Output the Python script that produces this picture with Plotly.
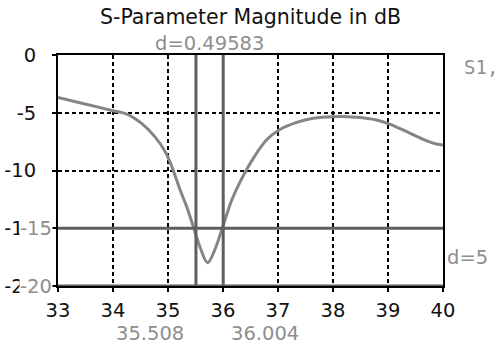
import plotly.graph_objects as go

freq = [33.0, 33.49, 34.0, 34.25, 34.52, 34.76, 34.95, 35.07, 35.22, 35.34, 35.46, 35.58,
        35.72, 35.85, 36.0, 36.16, 36.32, 36.55, 36.79, 37.02, 37.34, 37.64, 38.0, 38.43,
        38.79, 39.04, 39.34, 39.64, 39.88, 40.0]
s11_db = [-3.67, -4.24, -4.82, -5.11, -5.92, -7.07, -8.37, -9.67, -11.69, -13.13, -14.86, -16.6,
          -17.98, -16.88, -14.8, -12.55, -10.9, -8.95, -7.36, -6.49, -5.83, -5.48, -5.34, -5.4,
          -5.63, -6.0, -6.64, -7.3, -7.71, -7.79]

x_ticks = [33, 34, 35, 36, 37, 38, 39, 40]
x_ticktext = ["33", "34", "35", "36", "37", "38", "39", "40"]
y_ticks = [0, -5, -10, -15, -20]
y_ticktext = ["0", "-5", "-10", "-15", "-20"]

cursor_x = [35.508, 36.004]
cursor_labels = ["35.508", "36.004"]
level_y = [-15, -20]
level_labels = ["-15", "-20"]
delta_x_text = "d=0.49583"
delta_y_text = "d=5"
legend_text = "S1,"
title_text = "S-Parameter Magnitude in dB"

FONT = "DejaVu Sans"
GRAY_TXT = "#8e8e8e"
MARK = "#5f5f5f"

TOP, BOT = 55, 286


def py(p):
    return (BOT - p) / (BOT - TOP)


fig = go.Figure()
fig.add_trace(go.Scatter(x=freq, y=s11_db, mode="lines",
                         line=dict(color="#858585", width=3, shape="spline", smoothing=1.0),
                         showlegend=False, hoverinfo="skip"))

for cx in cursor_x:
    fig.add_shape(type="line", xref="x", yref="y", x0=cx, x1=cx, y0=-20, y1=0,
                  line=dict(color=MARK, width=3), layer="above")
for ly in level_y:
    fig.add_shape(type="line", xref="x", yref="y", x0=32.95, x1=40, y0=ly, y1=ly,
                  line=dict(color=MARK, width=3), layer="above")

ann = []
ann.append(dict(text=title_text, x=0.5, xref="paper", yref="paper", y=py(17), yanchor="middle",
                showarrow=False, font=dict(family=FONT, size=20.5, color="#111")))
ann.append(dict(text=delta_x_text, x=(cursor_x[0] + cursor_x[1]) / 2, xref="x",
                yref="paper", y=py(44), yanchor="middle", showarrow=False,
                font=dict(family=FONT, size=19.5, color=GRAY_TXT)))
ann.append(dict(text=cursor_labels[0], x=cursor_x[0], xref="x", xanchor="right", xshift=-10,
                yref="paper", y=py(333), yanchor="middle", showarrow=False,
                font=dict(family=FONT, size=19.5, color=GRAY_TXT)))
ann.append(dict(text=cursor_labels[1], x=cursor_x[1], xref="x", xanchor="left", xshift=6,
                yref="paper", y=py(333), yanchor="middle", showarrow=False,
                font=dict(family=FONT, size=19.5, color=GRAY_TXT)))
for ly, lt in zip(level_y, level_labels):
    ann.append(dict(text=lt, x=0, xref="paper", xanchor="right", xshift=-5,
                    y=ly, yref="y", yanchor="middle", showarrow=False, bgcolor="white",
                    borderpad=0,
                    font=dict(family=FONT, size=19.5, color=GRAY_TXT)))
ann.append(dict(text=delta_y_text, x=1, xref="paper", xanchor="left", xshift=2,
                y=(level_y[0] + level_y[1]) / 2, yref="y", yanchor="middle", showarrow=False,
                font=dict(family=FONT, size=19.5, color=GRAY_TXT)))
ann.append(dict(text=legend_text, x=1, xref="paper", xanchor="left", xshift=19,
                yref="paper", y=py(67), yanchor="middle", showarrow=False,
                font=dict(family="DejaVu Sans Mono", size=19, color=GRAY_TXT)))

grid = dict(showgrid=True, gridcolor="black", gridwidth=1.5, griddash="4px,3px",
            zeroline=False, showline=True, linecolor="black", linewidth=2, mirror=True,
            ticks="outside", ticklen=4, tickcolor="black", tickwidth=1.5, automargin=False)

fig.update_layout(
    width=500, height=354,
    margin=dict(l=58, r=57, t=TOP, b=354 - BOT),
    paper_bgcolor="white", plot_bgcolor="white",
    font=dict(family=FONT, size=19.5, color="#111"),
    xaxis=dict(range=[33, 40], tickvals=x_ticks, ticktext=x_ticktext,
               ticklabelstandoff=2, **grid),
    yaxis=dict(range=[-20, 0], tickvals=y_ticks, ticktext=y_ticktext,
               ticklabelstandoff=12, **grid),
    annotations=ann,
    showlegend=False,
)

fig.write_html("out.html")
